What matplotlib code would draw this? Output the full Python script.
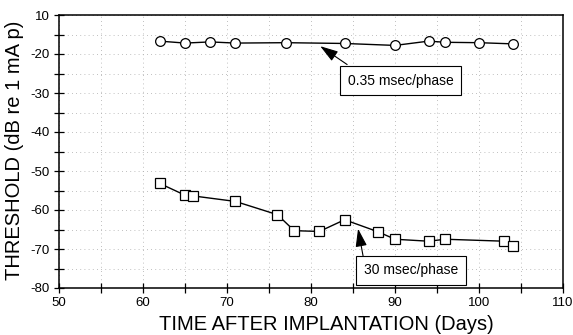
import matplotlib
matplotlib.use("Agg")
import matplotlib.pyplot as plt
import numpy as np

plt.rcParams['font.family'] = ['Liberation Sans', 'DejaVu Sans']

# Data
days_short = [62, 65, 68, 71, 77, 84, 90, 94, 96, 100, 104]
thr_short = [-16.7, -17.2, -16.9, -17.2, -17.1, -17.3, -17.8, -16.7, -17.0, -17.1, -17.4]

days_long = [62, 65, 66, 71, 76, 78, 81, 84, 88, 90, 94, 96, 103, 104]
thr_long = [-53.2, -56.2, -56.4, -57.8, -61.2, -65.3, -65.5, -62.5, -65.6, -67.5, -68.0, -67.5, -68.0, -69.3]

x_ticks = [50, 60, 70, 80, 90, 100, 110]
x_tick_labels = ["50", "60", "70", "80", "90", "100", "110"]
y_ticks = [-80, -70, -60, -50, -40, -30, -20, -10]
y_tick_labels = ["-80", "-70", "-60", "-50", "-40", "-30", "-20", "10"]

label_short = "0.35 msec/phase"
label_long = "30 msec/phase"

fig = plt.figure(figsize=(5.73, 3.35), dpi=100)
ax = fig.add_axes([59/573, 1-288/335, (563-59)/573, (288-15)/335])

ax.plot(days_short, thr_short, color='black', lw=1.0, marker='o', ms=7,
        mfc='white', mec='black', mew=0.9, zorder=3)
ax.plot(days_long, thr_long, color='black', lw=1.0, marker='s', ms=6.5,
        mfc='white', mec='black', mew=0.9, zorder=3)

ax.set_xlim(50, 110)
ax.set_ylim(-80, -10)
ax.set_xticks(x_ticks)
ax.set_xticklabels(x_tick_labels)
ax.set_yticks(y_ticks)
ax.set_yticklabels(y_tick_labels)
ax.set_xticks(np.arange(55, 110, 10), minor=True)
ax.set_yticks(np.arange(-75, -10, 10), minor=True)
ax.tick_params(which='both', direction='inout', length=7, width=0.9, labelsize=9.5, pad=3)

for s in ax.spines.values():
    s.set_linewidth(1.1)

ax.grid(True, which='both', linestyle=(0, (1, 4)), color='#aaaaaa', lw=0.6)
ax.set_axisbelow(True)

ax.set_xlabel("TIME AFTER IMPLANTATION (Days)", fontsize=14.5)
ax.set_ylabel("THRESHOLD (dB re 1 mA p)", fontsize=14.5)
ax.xaxis.set_label_coords(0.53, -0.1)
ax.yaxis.set_label_coords(-0.069, 0.505)

bbox = dict(boxstyle='square,pad=0.55', fc='white', ec='black', lw=0.8)
arrow = dict(arrowstyle='-|>,head_length=1.1,head_width=0.35', color='black', lw=0.8,
             shrinkA=0, shrinkB=0)

# arrows (tail -> tip)
ax.annotate('', xy=(81.1, -18.0), xytext=(84.3, -22.7), arrowprops=arrow, zorder=5)
ax.annotate('', xy=(85.6, -64.8), xytext=(86.2, -71.8), arrowprops=arrow, zorder=5)

# boxed labels
ax.text(84.4, -26.8, label_short, fontsize=10, va='center', ha='left', bbox=bbox, zorder=6)
ax.text(86.3, -75.5, label_long, fontsize=10, va='center', ha='left', bbox=bbox, zorder=6)

fig.savefig("out.png", dpi=100)
